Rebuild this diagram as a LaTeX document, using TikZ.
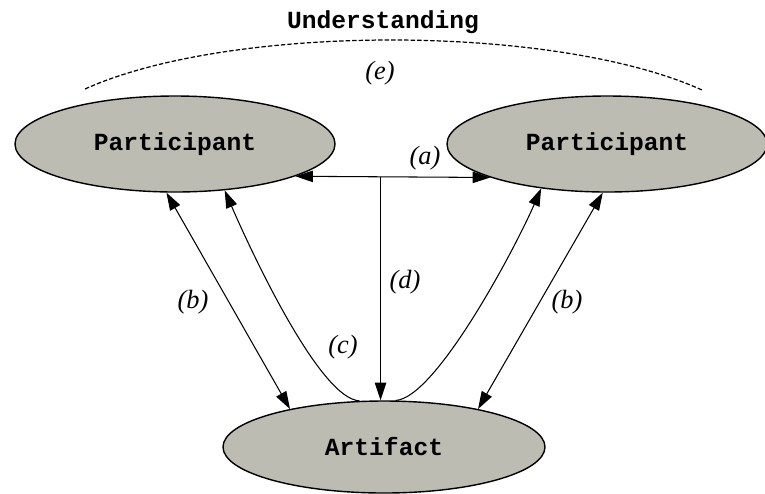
\documentclass[tikz,border=0pt]{standalone}
\usepackage{fontspec}
\setmainfont{Liberation Serif}
\setmonofont{Liberation Mono}
\usetikzlibrary{
    arrows.meta,
    shapes.geometric
}
\definecolor{blobgray}{RGB}{189,188,178}

\begin{document}
\begin{tikzpicture}[
      line width=0.6pt,
      >={Triangle[length=10pt, width=6.5pt]},
      party/.style={draw, ellipse, fill=blobgray, line width=0.8pt, inner sep=0pt,
        minimum width=6.4cm, minimum height=1.92cm, font=\ttfamily\bfseries\fontsize{14}{16}\selectfont},
      lbl/.style={font=\itshape\fontsize{15}{17}\selectfont, inner sep=1pt},
      hull/.style={dash pattern=on 2.5pt off 1.2pt, line width=0.7pt}]
    \useasboundingbox (0,0) rectangle (15.3,-9.86);
    \node[party] (lp) at (3.5,-2.88) {Participant};
    \node[party] (rp) at (12.14,-2.88) {Participant};
    \node[party, minimum width=6.44cm, minimum height=1.84cm] (art) at (7.68,-8.94) {Artifact};
    \node[font=\ttfamily\bfseries\fontsize{14}{16}\selectfont] (und) at (7.66,-0.44) {Understanding};
    % shared understanding
    \draw[hull] (1.7,-1.78) .. controls (4.6,-0.47) and (11.1,-0.47) .. (14.04,-1.8);
    \node[lbl] (le) at (7.6,-1.46) {(e)};
    % direct exchange
    \draw[<->] (lp.-15) -- (rp.196) coordinate[pos=0.437] (amid);
    \draw[->] (amid) -- (amid |- art.north);
    \draw[<->] (art.158) -- (lp.-100);
    \draw[<->] (art.22) -- (rp.-95);
    \draw[->] (art.118) .. controls +(-0.8,0.04) and +(0.52,-1.2) .. (lp.-43);
    \draw[->] (art.76) .. controls +(0.8,0.04) and +(-0.52,-1.2) .. (rp.-146);
    \node[lbl] (la) at (8.5,-3.16) {(a)};
    \node[lbl] (ld) at (8.1,-5.64) {(d)};
    \node[lbl] (lb1) at (3.86,-6.04) {(b)};
    \node[lbl] (lb2) at (11.34,-6.04) {(b)};
    \node[lbl] (lc) at (6.86,-6.94) {(c)};
  \end{tikzpicture}
\end{document}
